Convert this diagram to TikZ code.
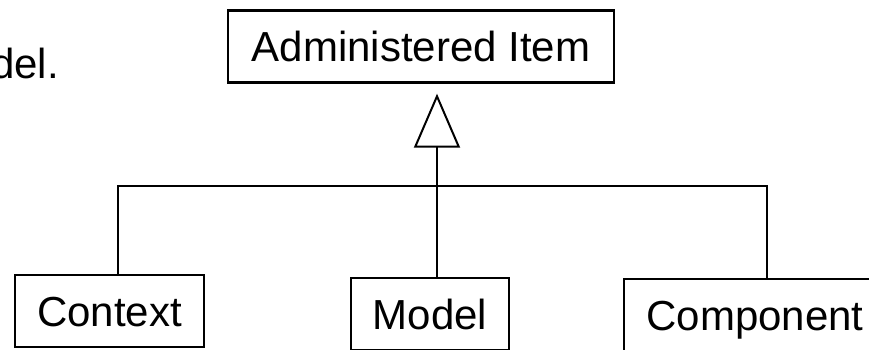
\documentclass[tikz,border=0pt]{standalone}
\usepackage{fontspec}
\setmainfont{Liberation Sans}
\usetikzlibrary{arrows.meta, positioning, calc}

\begin{document}
\begin{tikzpicture}[
  x=1pt, y=-1pt,
  cls/.style={draw, line width=2.4pt, inner sep=0pt, minimum height=72pt, text height=30pt, text depth=0pt, font=\fontsize{42}{50}\selectfont},
  link/.style={line width=2pt},
  gen/.style={line width=2.6pt, -{Triangle[open, length=54pt, width=46pt, line width=2pt]}, shorten >=10pt}
]
  \useasboundingbox (0,0) rectangle (869,349);
  \node[anchor=base east, inner sep=0pt, font=\fontsize{42}{50}\selectfont] (note) at (59,78) {del.};
  \node[cls, minimum width=386pt] (admin) at (421,46.5) {Administered Item};
  \node[cls, minimum width=189pt] (ctx) at (109.5,311) {Context};
  \node[cls, minimum width=158pt] (model) at (430,314) {Model};
  \node[cls, minimum width=262pt] (comp) at (755,315) {Component};
  \coordinate (join) at (437,186);
  \draw[link] ([xshift=8pt]ctx.north) |- (join);
  \draw[link] ([xshift=12pt]comp.north) |- (join);
  \draw[link] (join) -- (join |- model.north);
  \draw[gen] (join) -- (join |- admin.south);
\end{tikzpicture}
\end{document}
